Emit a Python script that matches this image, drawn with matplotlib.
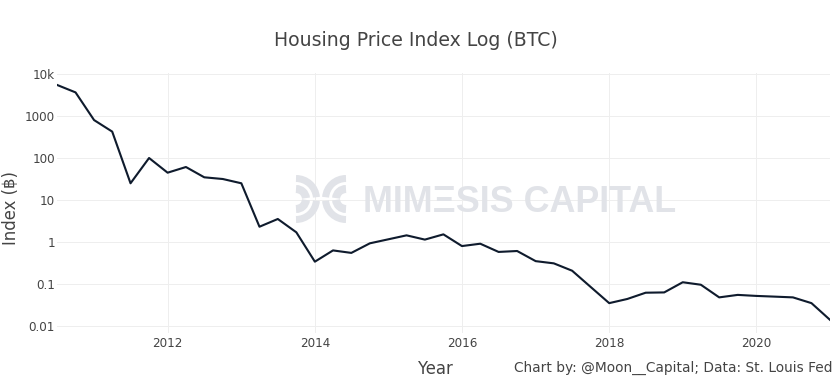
import matplotlib.pyplot as plt
import matplotlib.dates as mdates
from matplotlib.patches import Arc
import pandas as pd

# quarterly housing price index priced in BTC
quarters = pd.date_range('2010-07-01', '2021-01-01', freq='QS')
index_btc = [5500, 3650, 800, 425, 25, 100, 44.7, 61, 34.7, 31.6, 25,
             2.31, 3.53, 1.7, 0.34, 0.63, 0.55, 0.93, 1.16, 1.44, 1.14,
             1.52, 0.80, 0.91, 0.58, 0.61, 0.35, 0.31, 0.207, 0.085, 0.035,
             0.044, 0.062, 0.063, 0.11, 0.096, 0.048, 0.055, 0.052, 0.050,
             0.048, 0.035, 0.014]

ytick_vals = [0.01, 0.1, 1, 10, 100, 1000, 10000]
ytick_labels = ['0.01', '0.1', '1', '10', '100', '1000', '10k']
xtick_years = [2012, 2014, 2016, 2018, 2020]

txt = '#444444'
grid = '#eeeeee'
px = 72 / 100  # points per pixel at dpi 100

fig = plt.figure(figsize=(8.34, 3.91), dpi=100)
ax = fig.add_axes([57/834, 58/391, (830-57)/834, (333-73)/391])

ax.plot(quarters, index_btc, color='#0f1b2d', lw=2.1*px, zorder=3,
        solid_joinstyle='round')
ax.set_yscale('log')
ax.set_ylim(10**-2.167, 10**4.024)
ax.set_xlim(pd.Timestamp('2010-07-01'), pd.Timestamp('2021-01-01'))

ax.set_yticks(ytick_vals)
ax.set_yticklabels(ytick_labels)
ax.yaxis.set_minor_locator(plt.NullLocator())
ax.set_xticks([pd.Timestamp(f'{y}-01-01') for y in xtick_years])
ax.xaxis.set_major_formatter(mdates.DateFormatter('%Y'))

ax.grid(True, color=grid, lw=1.0*px)
ax.set_axisbelow(True)
for s in ax.spines.values():
    s.set_visible(False)
ax.tick_params(length=0, labelsize=12*px, labelcolor=txt)
ax.tick_params(axis='y', pad=1.5)
ax.tick_params(axis='x', pad=3)

ax.set_ylabel('Index (฿)', fontsize=16.5*px, color=txt)
ax.yaxis.label.set_va('center')
ax.yaxis.set_label_coords(-0.0595, 0.48)
fig.text(435/834, 1-369/391, 'Year', fontsize=16.5*px, color=txt,
         ha='center', va='center')
fig.text(832/834, 1-368/391, 'Chart by: @Moon__Capital; Data: St. Louis Fed',
         fontsize=13.8*px, color=txt, ha='right', va='center')
fig.text(416/834, 1-40/391, 'Housing Price Index Log (BTC)', fontsize=18.9*px,
         color=txt, ha='center', va='center')

# watermark
wm = '#e1e3e8'
fig.text(363/834, 1-202/391, 'MIMΞSIS CAPITAL', fontsize=35.9*px,
         family='Liberation Sans', weight='bold', color=wm,
         ha='left', va='center', zorder=1)
lax = fig.add_axes([295/834, 1-230/391, 56/834, 56/391])
lax.set_xlim(0, 56)
lax.set_ylim(0, 56)
lax.axis('off')
for cx, a0 in ((1, 0), (51, 180)):
    for r, w in ((10, 8), (20.5, 7)):
        lax.add_patch(Arc((cx, 31), 2*r, 2*r, theta1=a0 - 90 if a0 == 0 else a0 + 5,
                          theta2=a0 - 5 if a0 == 0 else a0 + 90,
                          color=wm, lw=w*px, clip_on=False))
        lax.add_patch(Arc((cx, 31), 2*r, 2*r, theta1=a0 + 5 if a0 == 0 else a0 - 90,
                          theta2=a0 + 90 if a0 == 0 else a0 - 5,
                          color=wm, lw=w*px, clip_on=False))

fig.savefig('out.png', dpi=100)
